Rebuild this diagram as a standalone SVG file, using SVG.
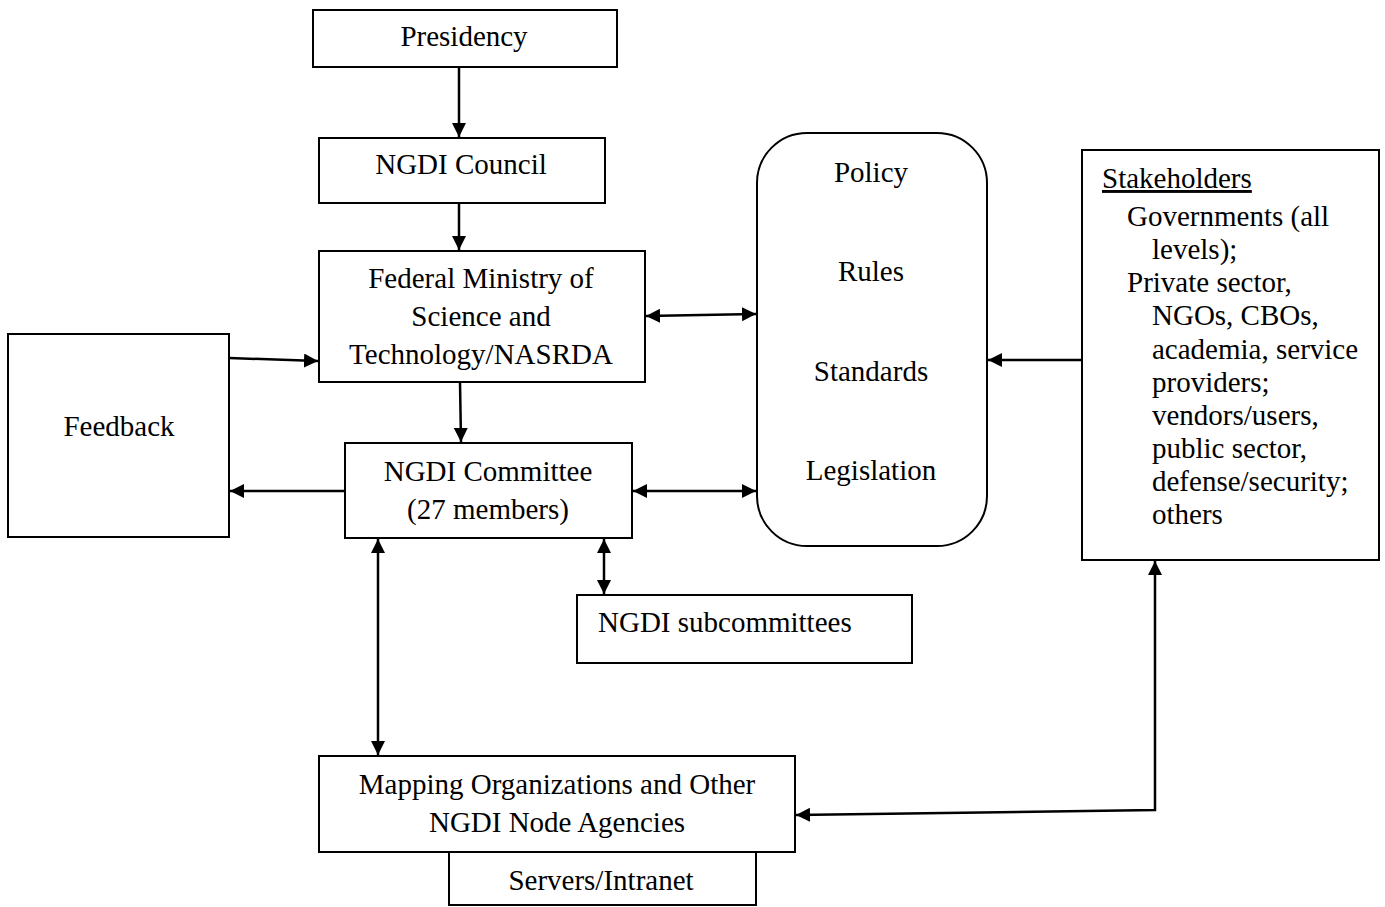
<svg xmlns="http://www.w3.org/2000/svg" width="1385" height="907" viewBox="0 0 1385 907">
<style>
.box{fill:#fff;stroke:#000;stroke-width:2}
.t{font-family:"Liberation Serif","Times New Roman",serif;font-size:29px;fill:#000}
.c{text-anchor:middle}
.ln{fill:none;stroke:#000;stroke-width:2.5}
</style>
<defs>
<marker id="ah" markerUnits="userSpaceOnUse" markerWidth="15" markerHeight="15" refX="14" refY="7" orient="auto-start-reverse" viewBox="0 0 15 15">
<path d="M0,0 L14,7 L0,14 z" fill="#000"/>
</marker>
</defs>
<rect width="1385" height="907" fill="#fff"/>
<g id="connectors">
<path class="ln" d="M459,67 L459,137" marker-end="url(#ah)"/>
<path class="ln" d="M459,203 L459,250" marker-end="url(#ah)"/>
<path class="ln" d="M229,358 L318,361" marker-end="url(#ah)"/>
<path class="ln" d="M460,382 L461,442" marker-end="url(#ah)"/>
<path class="ln" d="M345,491 L230,491" marker-end="url(#ah)"/>
<path class="ln" d="M646,316 L756,314" marker-start="url(#ah)" marker-end="url(#ah)"/>
<path class="ln" d="M633,491 L756,491" marker-start="url(#ah)" marker-end="url(#ah)"/>
<path class="ln" d="M1082,360 L988,360" marker-end="url(#ah)"/>
<path class="ln" d="M378,539 L378,755" marker-start="url(#ah)" marker-end="url(#ah)"/>
<path class="ln" d="M604,539 L604,594" marker-start="url(#ah)" marker-end="url(#ah)"/>
<path class="ln" d="M1155,561 L1155,810 L796,815" marker-start="url(#ah)" marker-end="url(#ah)"/>
</g>
<g id="presidency">
<rect class="box" x="313" y="10" width="304" height="57"/>
<text class="t c" x="464" y="46">Presidency</text>
</g>
<g id="council">
<rect class="box" x="319" y="138" width="286" height="65"/>
<text class="t c" x="461" y="174">NGDI Council</text>
</g>
<g id="fmst">
<rect class="box" x="319" y="251" width="326" height="131"/>
<text class="t c" x="481" y="288">Federal Ministry of</text>
<text class="t c" x="481" y="326">Science and</text>
<text class="t c" x="481" y="364">Technology/NASRDA</text>
</g>
<g id="feedback">
<rect class="box" x="8" y="334" width="221" height="203"/>
<text class="t c" x="119" y="436">Feedback</text>
</g>
<g id="committee">
<rect class="box" x="345" y="443" width="287" height="95"/>
<text class="t c" x="488" y="481">NGDI Committee</text>
<text class="t c" x="488" y="519">(27 members)</text>
</g>
<g id="policy">
<rect class="box" x="757" y="133" width="230" height="413" rx="50" ry="50"/>
<text class="t c" x="871" y="182">Policy</text>
<text class="t c" x="871" y="281">Rules</text>
<text class="t c" x="871" y="381">Standards</text>
<text class="t c" x="871" y="480">Legislation</text>
</g>
<g id="stakeholders">
<rect class="box" x="1082" y="150" width="297" height="410"/>
<text class="t" x="1102" y="188" text-decoration="underline">Stakeholders</text>
<text class="t" x="1127" y="226">Governments (all</text>
<text class="t" x="1152" y="259">levels);</text>
<text class="t" x="1127" y="292">Private sector,</text>
<text class="t" x="1152" y="325">NGOs, CBOs,</text>
<text class="t" x="1152" y="359">academia, service</text>
<text class="t" x="1152" y="392">providers;</text>
<text class="t" x="1152" y="425">vendors/users,</text>
<text class="t" x="1152" y="458">public sector,</text>
<text class="t" x="1152" y="491">defense/security;</text>
<text class="t" x="1152" y="524">others</text>
</g>
<g id="subcommittees">
<rect class="box" x="577" y="595" width="335" height="68"/>
<text class="t" x="598" y="632">NGDI subcommittees</text>
</g>
<g id="mapping">
<rect class="box" x="319" y="756" width="476" height="96"/>
<text class="t c" x="557" y="794">Mapping Organizations and Other</text>
<text class="t c" x="557" y="832">NGDI Node Agencies</text>
</g>
<g id="servers">
<rect class="box" x="449" y="852" width="307" height="53"/>
<text class="t c" x="601" y="890">Servers/Intranet</text>
</g>
</svg>
